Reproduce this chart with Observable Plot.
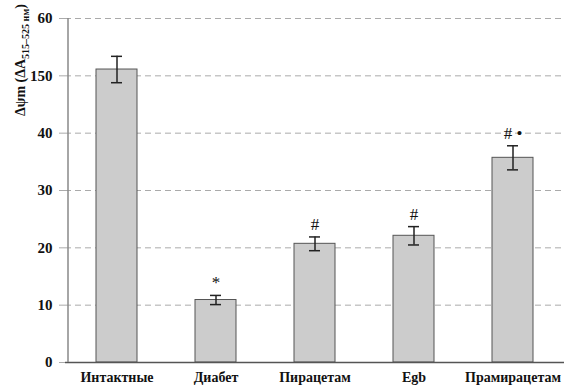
<!DOCTYPE html>
<html>
<head>
<meta charset="utf-8">
<script src="https://cdn.jsdelivr.net/npm/d3@7"></script>
<script src="https://cdn.jsdelivr.net/npm/@observablehq/plot@0.6"></script>
<style>
  body { margin: 0; background: #fff; }
</style>
</head>
<body>
<div id="chart"></div>
<script>
const categories = ["Интактные", "Диабет", "Пирацетам", "Egb", "Прамирацетам"];
const means = [51.1, 10.9, 20.7, 22.1, 35.7];
const errors = [2.3, 0.8, 1.2, 1.6, 2.1];
const marks = ["", "*", "#", "#", "# •"];
const yTicks = [0, 10, 20, 30, 40, 50, 60];
const yTickLabels = ["0", "10", "20", "30", "40", "150", "60"];

const data = categories.map((c, i) => ({cat: c, mean: means[i], err: errors[i], mark: marks[i]}));

const serif = "Liberation Serif";

const plot = Plot.plot({
  width: 568,
  height: 389,
  marginLeft: 65,
  marginRight: 4,
  marginTop: 18,
  marginBottom: 27,
  style: {background: "#fff", fontFamily: serif},
  x: {domain: categories, paddingInner: 0.59, paddingOuter: 0.295, label: null},
  y: {domain: [0, 60], label: null},
  marks: [
    Plot.ruleY(yTicks.filter(d => d > 0), {stroke: "#aaa", strokeWidth: 1, strokeDasharray: "6,4"}),
    Plot.axisY({
      ticks: yTicks,
      tickSize: 8,
      tickPadding: 5,
      tickFormat: d => yTickLabels[yTicks.indexOf(d)],
      stroke: "#aaa",
      strokeDasharray: "6,4",
      fontSize: 15,
      fontWeight: "bold",
      fill: "#111",
      label: null
    }),
    Plot.axisX({
      tickSize: 0,
      tickPadding: 10,
      fontSize: 14,
      fontWeight: "bold",
      fill: "#111",
      label: null
    }),
    Plot.barY(data, {x: "cat", y: "mean", fill: "#cccccc", stroke: "#555", strokeWidth: 1}),
    Plot.ruleX(data, {x: "cat", y1: d => d.mean - d.err, y2: d => d.mean + d.err, stroke: "#222", strokeWidth: 1.5}),
    Plot.tickY(data, {x: "cat", y: d => d.mean - d.err, stroke: "#222", strokeWidth: 1.5, insetLeft: 15, insetRight: 15}),
    Plot.tickY(data, {x: "cat", y: d => d.mean + d.err, stroke: "#222", strokeWidth: 1.5, insetLeft: 15, insetRight: 15}),
    Plot.text(data, {x: "cat", y: d => d.mean + d.err, text: "mark", dy: -7, lineAnchor: "bottom", fontSize: 17, fill: "#111"}),
    Plot.ruleY([0], {stroke: "#555", strokeWidth: 1.5}),
    Plot.ruleX([categories[0]], {y1: 0, y2: 60, dx: -49, stroke: "#888", strokeWidth: 1.5})
  ]
});

document.getElementById("chart").appendChild(plot);

// rotated y-axis title with subscript
const svg = d3.select(plot);
const t = svg.append("text")
  .attr("transform", "translate(25,116) rotate(-90)")
  .attr("text-anchor", "start")
  .attr("font-weight", "bold")
  .attr("font-size", 14)
  .attr("fill", "#111");
t.append("tspan").text("Δψm (ΔA");
t.append("tspan").attr("font-size", 10).attr("dy", 4).text("515–525 нм");
t.append("tspan").attr("dy", -4).text(")");

svg.style("font-family", "'Liberation Serif'");
svg.selectAll("g, text").style("font-family", "'Liberation Serif'");
</script>
</body>
</html>
